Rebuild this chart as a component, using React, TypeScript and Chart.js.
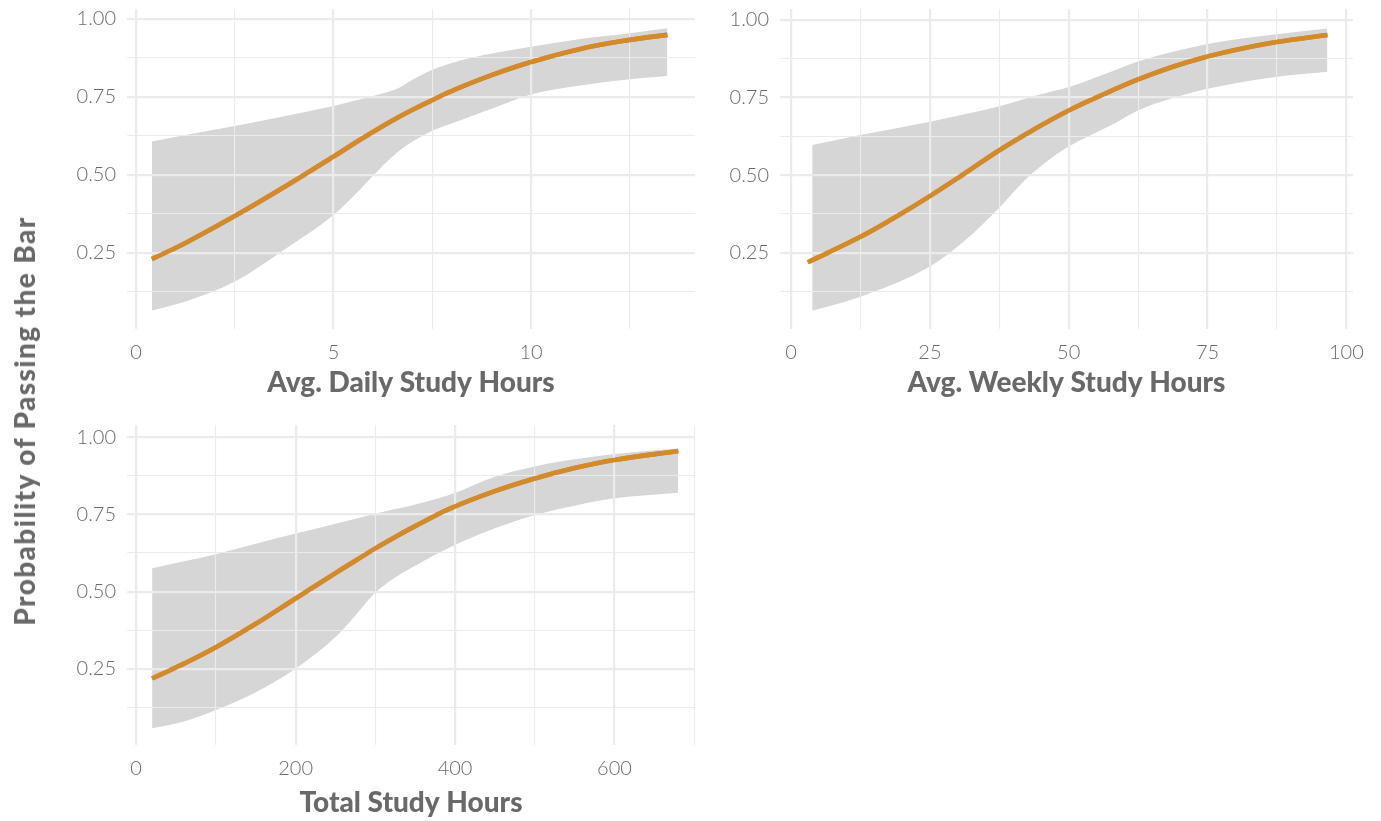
import React, { useEffect, useRef } from "react";
import { Chart, registerables } from "chart.js";

Chart.register(...registerables);

// ---------- shared y axis ----------
const probTicks = [0.25, 0.5, 0.75, 1.0];
const probTickLabels = ["0.25", "0.50", "0.75", "1.00"];
const probMinorTicks = [0.125, 0.375, 0.625, 0.875];

// ---------- Avg. daily study hours ----------
const dailyHours = [0.4, 1.25, 2.5, 3.75, 5, 5.66, 6.25, 6.64, 7.0, 7.5, 8.1, 9, 10, 11.25, 12.5, 13.45];
const dailyFit = [0.23, 0.282, 0.368, 0.461, 0.559, 0.612, 0.657, 0.685, 0.709, 0.74, 0.775, 0.82, 0.862, 0.904, 0.933, 0.949];
const dailyUpper = [0.607, 0.628, 0.657, 0.688, 0.721, 0.742, 0.762, 0.778, 0.805, 0.837, 0.863, 0.889, 0.911, 0.936, 0.954, 0.97];
const dailyLower = [0.065, 0.094, 0.158, 0.26, 0.372, 0.452, 0.53, 0.575, 0.607, 0.642, 0.67, 0.712, 0.758, 0.787, 0.807, 0.817];
const dailyTicks = [0, 5, 10];
const dailyTickLabels = ["0", "5", "10"];
const dailyMinorTicks = [2.5, 7.5, 12.5];

// ---------- Avg. weekly study hours ----------
const weeklyFitHours = [3.0, 12.5, 18.75, 25, 31.25, 37.5, 43.75, 50, 56.25, 62.5, 68.75, 75, 81.25, 87.5, 96.6];
const weeklyFit = [0.219, 0.301, 0.364, 0.432, 0.505, 0.58, 0.647, 0.708, 0.76, 0.808, 0.849, 0.882, 0.908, 0.929, 0.951];
const weeklyBandHours = [3.8, 12.5, 25, 31.25, 37.5, 42, 46, 49.6, 57.7, 62.5, 68.75, 75, 81.25, 87.5, 96.6];
const weeklyUpper = [0.597, 0.629, 0.672, 0.696, 0.722, 0.745, 0.765, 0.781, 0.834, 0.866, 0.897, 0.922, 0.94, 0.954, 0.972];
const weeklyLower = [0.063, 0.108, 0.205, 0.288, 0.395, 0.482, 0.543, 0.588, 0.661, 0.708, 0.748, 0.778, 0.8, 0.817, 0.833];
const weeklyTicks = [0, 25, 50, 75, 100];
const weeklyTickLabels = ["0", "25", "50", "75", "100"];
const weeklyMinorTicks = [12.5, 37.5, 62.5, 87.5];

// ---------- Total study hours ----------
const totalHours = [20, 60, 100, 150, 200, 250, 275, 300, 325, 350, 395, 450, 500, 550, 600, 680];
const totalFit = [0.219, 0.267, 0.32, 0.396, 0.478, 0.56, 0.6, 0.64, 0.677, 0.712, 0.77, 0.825, 0.866, 0.9, 0.926, 0.955];
const totalUpper = [0.576, 0.598, 0.621, 0.655, 0.688, 0.72, 0.736, 0.752, 0.767, 0.782, 0.815, 0.872, 0.905, 0.928, 0.945, 0.963];
const totalLower = [0.058, 0.08, 0.117, 0.175, 0.251, 0.353, 0.423, 0.497, 0.546, 0.584, 0.645, 0.705, 0.748, 0.778, 0.802, 0.82];
const totalTicks = [0, 200, 400, 600];
const totalTickLabels = ["0", "200", "400", "600"];
const totalMinorTicks = [100, 300, 500, 700];

const yTitle = "Probability of Passing the Bar";

// ---------- styling ----------
const FIT_COLOR = "#D38A2A";
const BAND_COLOR = "#D6D6D6";
const GRID_COLOR = "#EBEBEB";
const TEXT_COLOR = "#6B6B6B";
const TITLE_COLOR = "#696969";
const FONT_FAMILY = "Lato, 'Open Sans', sans-serif";
const TICK_FONT = { family: FONT_FAMILY, size: 20, weight: "300" as const };
const TITLE_FONT = { family: FONT_FAMILY, size: 28, weight: "900" as const };

type Panel = {
  title: string;
  fitX: number[];
  fit: number[];
  bandX: number[];
  upper: number[];
  lower: number[];
  xTicks: number[];
  xTickLabels: string[];
  xMinor: number[];
  xMin: number;
  xMax: number;
  yMin: number;
  yMax: number;
  box: { left: number; top: number; width: number; height: number };
  yAxisWidth: number;
  xAxisHeight: number;
  padTop: number;
  padRight: number;
  titlePad: number;
};

const panels: Panel[] = [
  {
    title: "Avg. Daily Study Hours",
    fitX: dailyHours, fit: dailyFit, bandX: dailyHours, upper: dailyUpper, lower: dailyLower,
    xTicks: dailyTicks, xTickLabels: dailyTickLabels, xMinor: dailyMinorTicks,
    xMin: -0.23, xMax: 14.15, yMin: 0.006, yMax: 1.032,
    box: { left: 0, top: 0, width: 700, height: 410 },
    yAxisWidth: 127, xAxisHeight: 81, padTop: 9, padRight: 5, titlePad: 10,
  },
  {
    title: "Avg. Weekly Study Hours",
    fitX: weeklyFitHours, fit: weeklyFit, bandX: weeklyBandHours, upper: weeklyUpper, lower: weeklyLower,
    xTicks: weeklyTicks, xTickLabels: weeklyTickLabels, xMinor: weeklyMinorTicks,
    xMin: -2.0, xMax: 101.2, yMin: 0.004, yMax: 1.035,
    box: { left: 690, top: 0, width: 691, height: 410 },
    yAxisWidth: 90, xAxisHeight: 81, padTop: 9, padRight: 28, titlePad: 10,
  },
  {
    title: "Total Study Hours",
    fitX: totalHours, fit: totalFit, bandX: totalHours, upper: totalUpper, lower: totalLower,
    xTicks: totalTicks, xTickLabels: totalTickLabels, xMinor: totalMinorTicks,
    xMin: -11.5, xMax: 701, yMin: 0.004, yMax: 1.039,
    box: { left: 0, top: 415, width: 700, height: 406 },
    yAxisWidth: 127, xAxisHeight: 76, padTop: 10, padRight: 5, titlePad: 1,
  },
];

const near = (a: number, b: number) => Math.abs(a - b) < 1e-6;

function labelFor(value: number, ticks: number[], labels: string[]) {
  const i = ticks.findIndex((t) => near(t, value));
  return i >= 0 ? labels[i] : "";
}

function gridWidth(ticks: number[]) {
  return (ctx: any) => {
    const v = ctx.tick ? ctx.tick.value : NaN;
    return ticks.some((t) => near(t, v)) ? 2.2 : 1.1;
  };
}

// The grid sits above the confidence band; the fitted curve is painted again
// after everything else so it stays on top of the grid.
const fitOnTop = {
  id: "fitOnTop",
  afterDraw(chart: any) {
    const { ctx, chartArea } = chart;
    const meta = chart.getDatasetMeta(0);
    ctx.save();
    ctx.beginPath();
    ctx.rect(chartArea.left, chartArea.top, chartArea.right - chartArea.left, chartArea.bottom - chartArea.top);
    ctx.clip();
    meta.controller.draw();
    ctx.restore();
  },
};

function buildConfig(p: Panel): any {
  const pts = (xs: number[], ys: number[]) => xs.map((x, i) => ({ x, y: ys[i] }));
  const xAll = [...p.xTicks, ...p.xMinor].filter((v) => v >= p.xMin && v <= p.xMax).sort((a, b) => a - b);
  const yAll = [...probTicks, ...probMinorTicks].filter((v) => v >= p.yMin && v <= p.yMax).sort((a, b) => a - b);
  return {
    type: "line",
    data: {
      datasets: [
        {
          data: pts(p.fitX, p.fit),
          borderColor: FIT_COLOR,
          borderWidth: 4.6,
          borderCapStyle: "butt",
          pointRadius: 0,
          fill: false,
          tension: 0.4,
        },
        {
          data: pts(p.bandX, p.upper),
          borderColor: "rgba(0,0,0,0)",
          borderWidth: 0,
          pointRadius: 0,
          backgroundColor: BAND_COLOR,
          fill: 2,
          cubicInterpolationMode: "monotone",
        },
        {
          data: pts(p.bandX, p.lower),
          borderColor: "rgba(0,0,0,0)",
          borderWidth: 0,
          pointRadius: 0,
          fill: false,
          cubicInterpolationMode: "monotone",
        },
      ],
    },
    plugins: [fitOnTop],
    options: {
      animation: false,
      responsive: false,
      maintainAspectRatio: false,
      events: [],
      layout: { padding: { top: p.padTop, right: p.padRight, left: 0, bottom: 0 } },
      plugins: { legend: { display: false }, tooltip: { enabled: false } },
      scales: {
        x: {
          type: "linear",
          min: p.xMin,
          max: p.xMax,
          afterBuildTicks: (s: any) => {
            s.ticks = xAll.map((v) => ({ value: v }));
          },
          afterFit: (s: any) => {
            s.height = p.xAxisHeight;
            s.paddingLeft = 0;
            s.paddingRight = 0;
          },
          ticks: {
            autoSkip: false,
            maxRotation: 0,
            padding: 12,
            color: TEXT_COLOR,
            font: TICK_FONT,
            callback: (v: number) => labelFor(v, p.xTicks, p.xTickLabels),
          },
          grid: { drawTicks: false, color: GRID_COLOR, lineWidth: gridWidth(p.xTicks), z: 1 },
          border: { display: false },
          title: {
            display: true,
            text: p.title,
            color: TITLE_COLOR,
            font: TITLE_FONT,
            padding: { top: 0, bottom: p.titlePad },
          },
        },
        y: {
          type: "linear",
          min: p.yMin,
          max: p.yMax,
          afterBuildTicks: (s: any) => {
            s.ticks = yAll.map((v) => ({ value: v }));
          },
          afterFit: (s: any) => {
            s.width = p.yAxisWidth;
            s.paddingTop = 0;
            s.paddingBottom = 0;
          },
          ticks: {
            autoSkip: false,
            padding: 11,
            color: TEXT_COLOR,
            font: TICK_FONT,
            callback: (v: number) => labelFor(v, probTicks, probTickLabels),
          },
          grid: { drawTicks: false, color: GRID_COLOR, lineWidth: gridWidth(probTicks), z: 1 },
          border: { display: false },
        },
      },
    },
  };
}

function PanelChart({ panel }: { panel: Panel }) {
  const ref = useRef<HTMLCanvasElement | null>(null);
  useEffect(() => {
    if (!ref.current) return;
    const chart = new Chart(ref.current, buildConfig(panel));
    return () => chart.destroy();
  }, [panel]);
  const { left, top, width, height } = panel.box;
  return (
    <canvas
      ref={ref}
      width={width}
      height={height}
      style={{ position: "absolute", left, top, width, height }}
    />
  );
}

export default function App() {
  return (
    <div
      style={{
        position: "fixed",
        left: 0,
        top: 0,
        width: 1381,
        height: 821,
        background: "#ffffff",
        overflow: "hidden",
      }}
    >
      {panels.map((p) => (
        <PanelChart key={p.title} panel={p} />
      ))}
      <div
        style={{
          position: "absolute",
          left: 24,
          top: 421,
          transform: "translate(-50%, -50%) rotate(-90deg)",
          whiteSpace: "nowrap",
          fontFamily: FONT_FAMILY,
          fontWeight: 900,
          fontSize: 28,
          letterSpacing: "1.4px",
          color: TITLE_COLOR,
          lineHeight: 1,
        }}
      >
        {yTitle}
      </div>
    </div>
  );
}
